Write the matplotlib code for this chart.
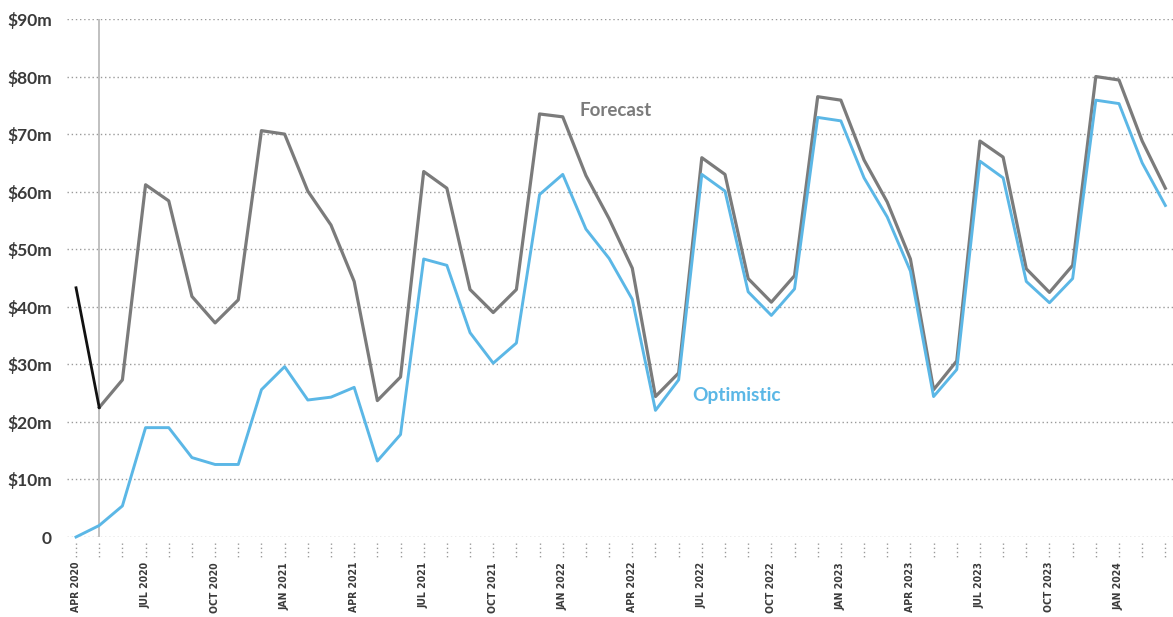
import matplotlib
matplotlib.use("Agg")
import matplotlib.pyplot as plt
import matplotlib.transforms as mtransforms

# months from APR 2020 (index 0) to MAR 2024 (index 47)
months = list(range(48))

actual_idx = [0, 1]
actual = [43.3, 22.5]

forecast_idx = list(range(1, 48))
forecast = [22.5, 27.3, 61.2, 58.4, 41.8, 37.2, 41.2, 70.6, 70.0, 60.1, 54.2,
            44.4, 23.7, 27.8, 63.5, 60.6, 43.0, 39.0, 43.0, 73.5, 73.0, 62.8,
            55.3, 46.7, 24.4, 28.5, 65.9, 63.0, 44.9, 40.8, 45.4, 76.5, 75.9,
            65.5, 58.2, 48.3, 25.6, 30.6, 68.8, 66.0, 46.6, 42.5, 47.2, 80.0,
            79.4, 68.8, 60.6]

optimistic = [0.0, 2.0, 5.4, 19.0, 19.0, 13.8, 12.6, 12.6, 25.6, 29.6, 23.8,
              24.3, 26.0, 13.2, 17.8, 48.3, 47.2, 35.5, 30.2, 33.7, 59.5, 63.0,
              53.5, 48.4, 41.3, 22.0, 27.3, 63.0, 60.1, 42.6, 38.5, 43.1, 72.9,
              72.3, 62.4, 55.6, 46.2, 24.4, 29.1, 65.3, 62.4, 44.4, 40.7, 44.9,
              75.9, 75.3, 65.0, 57.6]

label_pos = list(range(0, 48, 3))
label_text = ["APR 2020", "JUL 2020", "OCT 2020", "JAN 2021",
              "APR 2021", "JUL 2021", "OCT 2021", "JAN 2022",
              "APR 2022", "JUL 2022", "OCT 2022", "JAN 2023",
              "APR 2023", "JUL 2023", "OCT 2023", "JAN 2024"]

y_ticks = [0, 10, 20, 30, 40, 50, 60, 70, 80, 90]
y_labels = ["0"] + ["$%dm" % v for v in y_ticks[1:]]

grey = "#7b7b7b"
blue = "#5bb7e6"

fig = plt.figure(figsize=(11.73, 6.17), dpi=100)
ax = fig.add_axes([67 / 1173, 1 - 537 / 617, 1 - 67 / 1173, (537 - 19) / 617])

ax.set_xlim(-0.39, 47.33)
ax.set_ylim(0, 90)

for v in y_ticks:
    ax.axhline(v, color="#9a9a9a", lw=1.0, ls=(0, (1, 2)), zorder=1)

# today marker
ax.axvline(1, color="#b5b5b5", lw=1.2, zorder=2)

ax.plot(actual_idx, actual, color="#111111", lw=2.0, zorder=4, clip_on=False)
ax.plot(forecast_idx, forecast, color=grey, lw=2.3, zorder=3, clip_on=False)
ax.plot(months, optimistic, color=blue, lw=2.1, zorder=4, clip_on=False)

ax.text(23.3, 74.1, "Forecast", color=grey, fontsize=13.5, fontweight="bold",
        ha="center", va="center", family="Lato")
ax.text(28.5, 24.5, "Optimistic", color=blue, fontsize=13.8, fontweight="bold",
        ha="center", va="center", family="Lato")

# dotted month ticks under the axis
trans = mtransforms.blended_transform_factory(ax.transData, ax.transAxes)
ax.vlines(months, -0.011, -0.04, transform=trans, color="#9a9a9a",
          lw=1.0, ls=(0, (1, 2)), clip_on=False)

ax.set_yticks(y_ticks)
ax.set_yticklabels(y_labels)
ax.set_xticks(label_pos)
ax.set_xticklabels(label_text, rotation=90)
ax.tick_params(axis="y", length=0, pad=11, labelsize=12.5, labelcolor="#3a3a3a")
ax.tick_params(axis="x", length=0, pad=18, labelsize=7.5, labelcolor="#3a3a3a")
for t in ax.get_yticklabels():
    t.set_fontweight("bold")
    t.set_family("Lato")
for t in ax.get_xticklabels():
    t.set_fontweight("bold")
    t.set_family("DejaVu Sans")
    t.set_fontstretch("condensed")
    t.set_va("top")

for s in ax.spines.values():
    s.set_visible(False)

fig.savefig("out.png", dpi=100)
